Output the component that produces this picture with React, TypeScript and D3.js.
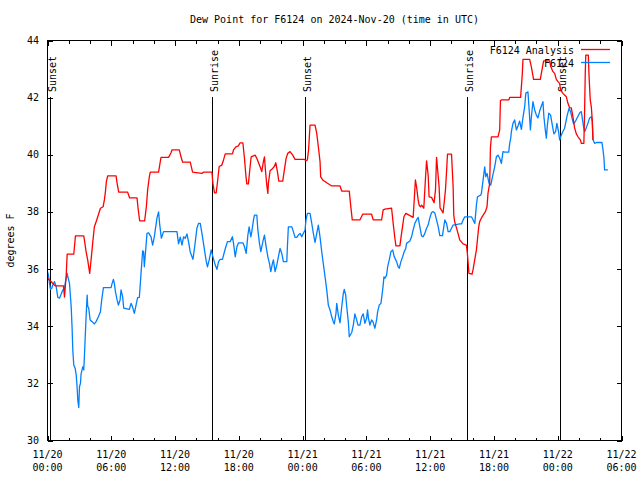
import React from 'react';
import * as d3 from 'd3';

const title = 'Dew Point for F6124 on 2024-Nov-20 (time in UTC)';
const yAxisLabel = 'degrees F';
const yTicks = [30, 32, 34, 36, 38, 40, 42, 44];
const xMajorHours = [0, 6, 12, 18, 24, 30, 36, 42, 48, 54];
const xMinorHours = d3.range(0, 55, 2);
const xTickDates = ['11/20', '11/20', '11/20', '11/20', '11/21', '11/21', '11/21', '11/21', '11/22', '11/22'];
const xTickTimes = ['00:00', '06:00', '12:00', '18:00', '00:00', '06:00', '12:00', '18:00', '00:00', '06:00'];
const eventHours = [0.19, 15.52, 24.23, 39.47, 48.24];
const eventLabels = ['Sunset', 'Sunrise', 'Sunset', 'Sunrise', 'Sunset'];
const seriesNames = ['F6124 Analysis', 'F6124'];
const seriesColors = ['#ff0000', '#0080ff'];

// [hours since 11/20 00:00 UTC, dew point °F]
const analysis: [number, number][] = [
  [0,35.68],[0.40,35.54],[0.72,35.41],[1.50,35.41],[1.60,35.02],[1.76,35.79],[1.85,36.52],[2.47,36.52],[2.63,37.16],[3.41,37.16],[3.47,37.02],[3.63,36.61],[3.78,36.32],[3.97,35.85],[4.10,36.32],[4.25,36.91],[4.41,37.48],[4.63,37.72],[4.98,38.13],[5.23,38.18],[5.35,38.42],[5.45,38.71],[5.54,39.06],[5.66,39.26],[6.45,39.26],[6.55,39.00],[6.70,38.69],[7.54,38.69],[7.73,38.49],[8.42,38.49],[8.52,38.13],[8.67,37.69],[9.14,37.69],[9.30,38.18],[9.42,38.77],[9.58,39.23],[9.67,39.39],[10.45,39.39],[10.61,39.76],[10.68,39.91],[11.39,39.91],[11.62,40.07],[11.71,40.17],[12.40,40.17],[12.56,39.93],[12.71,39.74],[13.43,39.74],[13.65,39.39],[14.53,39.35],[14.68,39.39],[15.47,39.39],[15.56,39.00],[15.71,38.67],[15.87,38.67],[15.99,39.04],[16.15,39.59],[16.40,39.64],[16.56,39.82],[16.72,40.03],[17.40,40.03],[17.50,40.17],[17.72,40.28],[17.96,40.31],[18.12,40.42],[18.38,40.42],[18.53,39.88],[18.66,39.29],[18.75,38.98],[18.90,38.98],[19.06,39.58],[19.16,39.93],[19.53,39.99],[19.69,39.88],[20.00,39.58],[20.16,39.41],[20.31,39.76],[20.41,39.93],[20.50,39.47],[20.63,38.94],[20.73,38.65],[20.78,39.00],[20.94,39.44],[21.10,39.49],[21.32,39.58],[21.48,39.72],[21.63,39.41],[21.76,39.08],[22.13,39.08],[22.26,39.41],[22.45,39.88],[22.60,40.05],[22.82,40.11],[23.07,39.99],[23.29,39.84],[24.16,39.84],[24.32,39.79],[24.45,39.82],[24.56,40.17],[24.70,41.04],[25.17,41.04],[25.33,40.75],[25.48,40.28],[25.64,39.76],[25.70,39.23],[25.89,39.12],[26.27,39.02],[26.74,38.91],[27.52,38.91],[27.68,38.73],[28.39,38.73],[28.52,38.24],[28.67,37.72],[29.39,37.72],[29.65,37.92],[30.49,37.92],[30.64,37.72],[31.43,37.72],[31.58,38.07],[31.74,38.10],[32.37,38.13],[32.52,37.60],[32.68,37.08],[32.78,36.81],[33.15,36.81],[33.31,37.25],[33.53,37.83],[33.71,37.95],[34.40,37.81],[34.50,38.42],[34.61,39.12],[34.72,38.88],[34.87,38.42],[34.96,38.24],[35.09,38.18],[35.19,38.24],[35.40,38.13],[35.55,39.12],[35.66,39.79],[35.81,39.29],[35.90,38.53],[36.13,38.51],[36.37,38.32],[36.50,38.77],[36.60,39.91],[36.69,39.53],[36.84,38.88],[36.93,38.14],[37.22,37.97],[37.44,38.77],[37.54,39.41],[37.63,40.02],[38.01,40.02],[38.16,38.88],[38.22,37.89],[38.31,37.65],[38.53,37.37],[38.78,37.02],[39.09,36.88],[39.41,36.84],[39.50,36.55],[39.65,35.85],[39.94,35.82],[40.03,35.97],[40.19,36.32],[40.35,36.67],[40.57,37.48],[40.66,37.66],[40.88,37.83],[41.20,38.01],[41.35,38.18],[41.44,38.65],[41.60,39.00],[41.67,40.25],[41.76,40.63],[42.38,40.63],[42.54,40.87],[42.61,41.89],[42.70,41.92],[43.41,41.92],[43.48,42.01],[44.51,42.01],[44.67,42.85],[44.73,43.34],[45.36,43.34],[45.52,43.08],[45.73,42.64],[46.36,42.64],[46.55,43.03],[46.67,43.29],[47.24,43.29],[47.33,43.11],[47.55,42.91],[47.71,42.85],[47.87,42.64],[48.02,42.56],[48.18,42.50],[48.27,42.27],[48.49,42.15],[48.81,42.03],[48.96,41.80],[49.12,41.65],[49.28,41.64],[49.43,41.33],[49.59,40.94],[49.75,40.73],[49.91,40.63],[50.13,40.52],[50.22,40.40],[50.46,40.40],[50.53,41.57],[50.59,42.85],[50.64,43.49],[50.88,43.49],[50.95,42.73],[51.06,41.92],[51.16,41.68],[51.25,41.22],[51.31,40.52]
];

const observed: [number, number][] = [
  [0,35.91],[0.09,35.79],[0.19,35.50],[0.28,35.29],[0.40,35.33],[0.50,35.44],[0.66,35.56],[0.82,35.38],[0.97,35.01],[1.13,34.98],[1.29,35.13],[1.44,35.27],[1.60,35.33],[1.69,35.56],[1.85,35.85],[1.91,35.73],[2.07,35.50],[2.16,35.03],[2.23,34.68],[2.32,33.87],[2.38,33.17],[2.47,32.64],[2.60,32.53],[2.70,32.29],[2.79,31.84],[2.85,31.42],[2.94,31.16],[3.01,31.88],[3.10,32.00],[3.16,32.33],[3.32,32.58],[3.41,32.47],[3.47,32.93],[3.57,33.81],[3.63,34.33],[3.73,35.09],[3.78,34.71],[3.88,34.63],[4.01,34.22],[4.20,34.16],[4.41,34.08],[4.57,34.16],[4.79,34.33],[4.98,34.51],[5.10,34.92],[5.26,35.35],[5.98,35.35],[6.08,35.50],[6.20,35.64],[6.29,35.50],[6.39,35.21],[6.55,34.92],[6.67,34.74],[6.83,34.92],[6.92,35.27],[7.07,35.03],[7.17,34.63],[7.70,34.59],[7.86,34.80],[8.01,34.66],[8.17,34.45],[8.33,34.74],[8.48,35.00],[8.64,35.01],[8.80,35.85],[8.95,36.64],[9.04,36.61],[9.11,36.08],[9.20,36.49],[9.36,37.25],[9.51,37.27],[9.74,37.13],[9.89,36.84],[10.05,37.13],[10.14,37.37],[10.30,37.79],[10.45,38.00],[10.55,37.58],[10.71,37.08],[10.92,37.31],[11.24,37.31],[12.18,37.31],[12.33,36.88],[12.49,37.12],[12.65,36.84],[12.80,37.13],[12.96,37.08],[13.12,37.23],[13.27,36.95],[13.43,36.60],[13.68,36.34],[13.83,36.73],[14.06,37.44],[14.21,37.60],[14.37,37.60],[14.53,37.25],[14.74,36.74],[14.93,36.28],[15.05,36.08],[15.21,36.32],[15.40,36.67],[15.52,36.49],[15.78,36.14],[15.94,35.99],[16.09,36.26],[16.25,36.34],[16.46,36.34],[16.62,36.57],[16.78,36.78],[16.93,36.96],[17.19,36.96],[17.40,37.13],[17.50,36.90],[17.66,36.43],[17.82,36.78],[17.97,36.92],[18.38,36.92],[18.53,36.78],[18.69,36.55],[18.85,37.19],[18.97,37.48],[19.13,37.13],[19.22,37.31],[19.38,37.72],[19.47,37.89],[19.69,37.89],[19.79,37.37],[19.94,36.90],[20.07,36.61],[20.26,36.96],[20.41,37.19],[20.57,36.78],[20.73,36.43],[20.88,36.20],[21.01,35.91],[21.16,36.20],[21.25,36.32],[21.41,35.91],[21.57,36.14],[21.72,36.43],[21.88,36.72],[22.04,36.55],[22.19,36.26],[22.51,36.26],[22.57,36.78],[22.66,37.48],[22.98,37.48],[23.13,37.31],[23.29,37.11],[23.45,37.11],[23.60,37.19],[23.76,37.25],[23.92,37.13],[24.07,37.25],[24.23,37.37],[24.32,37.72],[24.45,37.95],[24.70,37.95],[24.86,37.60],[25.01,37.25],[25.17,36.93],[25.33,37.25],[25.48,37.54],[25.64,37.12],[25.80,36.60],[25.95,36.18],[26.11,35.73],[26.27,35.27],[26.42,34.74],[26.58,34.57],[26.74,34.33],[26.89,34.15],[26.98,34.08],[27.14,34.45],[27.21,34.80],[27.36,34.39],[27.52,34.12],[27.68,34.68],[27.83,35.15],[27.92,35.29],[28.05,35.10],[28.15,34.68],[28.30,34.15],[28.39,33.63],[28.62,33.78],[28.77,34.04],[28.92,34.43],[29.08,34.22],[29.21,34.04],[29.39,34.04],[29.55,34.33],[29.70,34.43],[29.86,34.10],[30.02,34.28],[30.11,34.57],[30.19,34.29],[30.33,34.04],[30.49,34.22],[30.62,34.15],[30.80,33.93],[30.96,34.22],[31.06,34.51],[31.21,34.74],[31.37,34.80],[31.49,35.15],[31.58,35.44],[31.65,35.73],[31.74,35.68],[31.90,35.79],[32.00,36.08],[32.15,36.32],[32.31,36.61],[32.47,36.67],[32.62,36.43],[32.84,36.26],[32.99,36.08],[33.09,36.03],[33.25,36.26],[33.41,36.43],[33.56,36.61],[33.71,36.73],[33.78,36.90],[34.09,36.98],[34.25,37.13],[34.40,37.37],[34.56,37.60],[34.72,37.72],[34.87,37.81],[35.03,37.48],[35.19,37.16],[35.34,37.13],[35.50,37.25],[35.66,37.43],[35.81,37.54],[35.97,37.79],[36.13,37.98],[36.28,38.01],[36.44,37.96],[36.60,37.72],[36.76,37.48],[36.91,37.17],[37.16,37.17],[37.28,37.48],[37.38,37.72],[37.54,37.60],[37.69,37.31],[37.85,37.31],[38.01,37.43],[38.16,37.54],[38.79,37.58],[38.95,37.58],[39.10,37.72],[39.26,37.83],[39.89,37.83],[40.04,37.72],[40.20,37.60],[40.35,38.24],[40.45,38.53],[40.76,38.59],[40.82,38.65],[40.98,39.12],[41.13,39.58],[41.23,39.23],[41.35,39.35],[41.54,39.00],[41.70,38.94],[41.86,39.23],[42.07,39.58],[42.23,39.93],[42.38,39.99],[42.54,39.88],[42.70,39.70],[42.85,40.11],[43.01,40.09],[43.39,40.09],[43.48,40.40],[43.58,40.58],[43.64,40.81],[43.79,41.10],[43.95,41.22],[44.11,40.87],[44.26,41.01],[44.42,41.18],[44.58,40.89],[44.73,41.30],[44.89,41.68],[45.00,42.16],[45.20,42.20],[45.30,41.64],[45.43,40.87],[45.52,41.32],[45.67,41.86],[45.83,41.57],[45.99,41.39],[46.14,41.29],[46.30,41.53],[46.46,41.71],[46.61,41.86],[46.70,41.33],[46.83,40.87],[46.93,40.58],[47.02,41.01],[47.16,41.46],[47.33,41.39],[47.49,41.04],[47.64,40.73],[47.80,40.81],[47.92,41.10],[48.08,40.81],[48.18,40.52],[48.34,40.69],[48.51,40.83],[48.65,40.93],[48.88,41.36],[49.07,41.63],[49.21,41.51],[49.35,41.28],[49.49,41.08],[49.68,41.18],[49.87,41.32],[50.09,41.48],[50.22,41.51],[50.31,41.28],[50.43,40.98],[50.53,40.81],[50.69,40.95],[50.84,41.10],[51.00,41.29],[51.16,41.33],[51.25,41.16],[51.33,40.52],[51.47,40.40],[51.66,40.43],[52.16,40.43],[52.25,40.20],[52.35,39.88],[52.41,39.47],[52.72,39.47]
];

const W = 640;
const H = 480;
const M = { left: 47.5, right: 621.5, top: 40.5, bottom: 440.5 };
const FONT = '"DejaVu Sans Mono", monospace';

export default function App() {
  const x = d3.scaleLinear().domain([0, 54]).range([M.left, M.right]);
  const y = d3.scaleLinear().domain([30, 44]).range([M.bottom, M.top]);
  const line = d3.line<[number, number]>().x(d => x(d[0])).y(d => y(d[1]));
  const series = [observed, analysis];
  const colorsBySeries = [seriesColors[1], seriesColors[0]];

  return (
    <svg width={W} height={H} viewBox={`0 0 ${W} ${H}`}
      style={{ position: 'absolute', left: 0, top: 0, display: 'block', background: '#fff' }}
      fontFamily={FONT} fontSize={10}>
      <rect x={0} y={0} width={W} height={H} fill="#fff" />
      <text x={(M.left + M.right) / 2} y={23} textAnchor="middle" fill="#000">{title}</text>

      {/* y ticks */}
      {yTicks.map(t => (
        <g key={'y' + t} shapeRendering="crispEdges">
          <line x1={M.left} x2={M.left + 5} y1={Math.round(y(t)) + 0.5} y2={Math.round(y(t)) + 0.5} stroke="#000" />
          <line x1={M.right} x2={M.right - 5} y1={Math.round(y(t)) + 0.5} y2={Math.round(y(t)) + 0.5} stroke="#000" />
          <text x={39} y={y(t) + 3.5} textAnchor="end" fill="#000" shapeRendering="auto">{t}</text>
        </g>
      ))}

      {/* x ticks */}
      {xMinorHours.map(h => {
        const major = h % 6 === 0;
        const len = major ? 5 : 3;
        const xx = Math.round(x(h)) + 0.5;
        return (
          <g key={'x' + h} shapeRendering="crispEdges">
            <line x1={xx} x2={xx} y1={M.bottom} y2={M.bottom - len} stroke="#000" />
            <line x1={xx} x2={xx} y1={M.top} y2={M.top + len} stroke="#000" />
          </g>
        );
      })}
      {xMajorHours.map((h, i) => (
        <g key={'xl' + h}>
          <text x={x(h)} y={457.5} textAnchor="middle" fill="#000">{xTickDates[i]}</text>
          <text x={x(h)} y={470.5} textAnchor="middle" fill="#000">{xTickTimes[i]}</text>
        </g>
      ))}

      <text transform={`translate(14,${(M.top + M.bottom) / 2}) rotate(-90)`} textAnchor="middle" fill="#000">{yAxisLabel}</text>

      {/* sunrise / sunset markers */}
      {eventHours.map((h, i) => {
        const xx = Math.round(x(h)) + 0.5;
        return (
          <g key={'ev' + i}>
            <line x1={xx} x2={xx} y1={97} y2={M.bottom} stroke="#000" strokeWidth={1.6} shapeRendering="crispEdges" />
            <text transform={`translate(${xx + 5},92) rotate(-90)`} textAnchor="start" fill="#000">{eventLabels[i]}</text>
          </g>
        );
      })}

      {/* data lines */}
      {series.map((s, i) => (
        <path key={'s' + i} d={line(s) || ''} fill="none" stroke={colorsBySeries[i]} strokeWidth={1.3} strokeLinejoin="round" />
      ))}

      {/* legend */}
      {seriesNames.map((n, i) => (
        <g key={'lg' + i}>
          <text x={574} y={54 + i * 12.8} textAnchor="end" fill="#000">{n}</text>
          <line x1={581} x2={610} y1={49.5 + i * 13} y2={49.5 + i * 13} stroke={seriesColors[i]} strokeWidth={1.3} />
        </g>
      ))}

      {/* border */}
      <rect x={M.left} y={M.top} width={M.right - M.left} height={M.bottom - M.top} fill="none" stroke="#000" shapeRendering="crispEdges" />
    </svg>
  );
}
